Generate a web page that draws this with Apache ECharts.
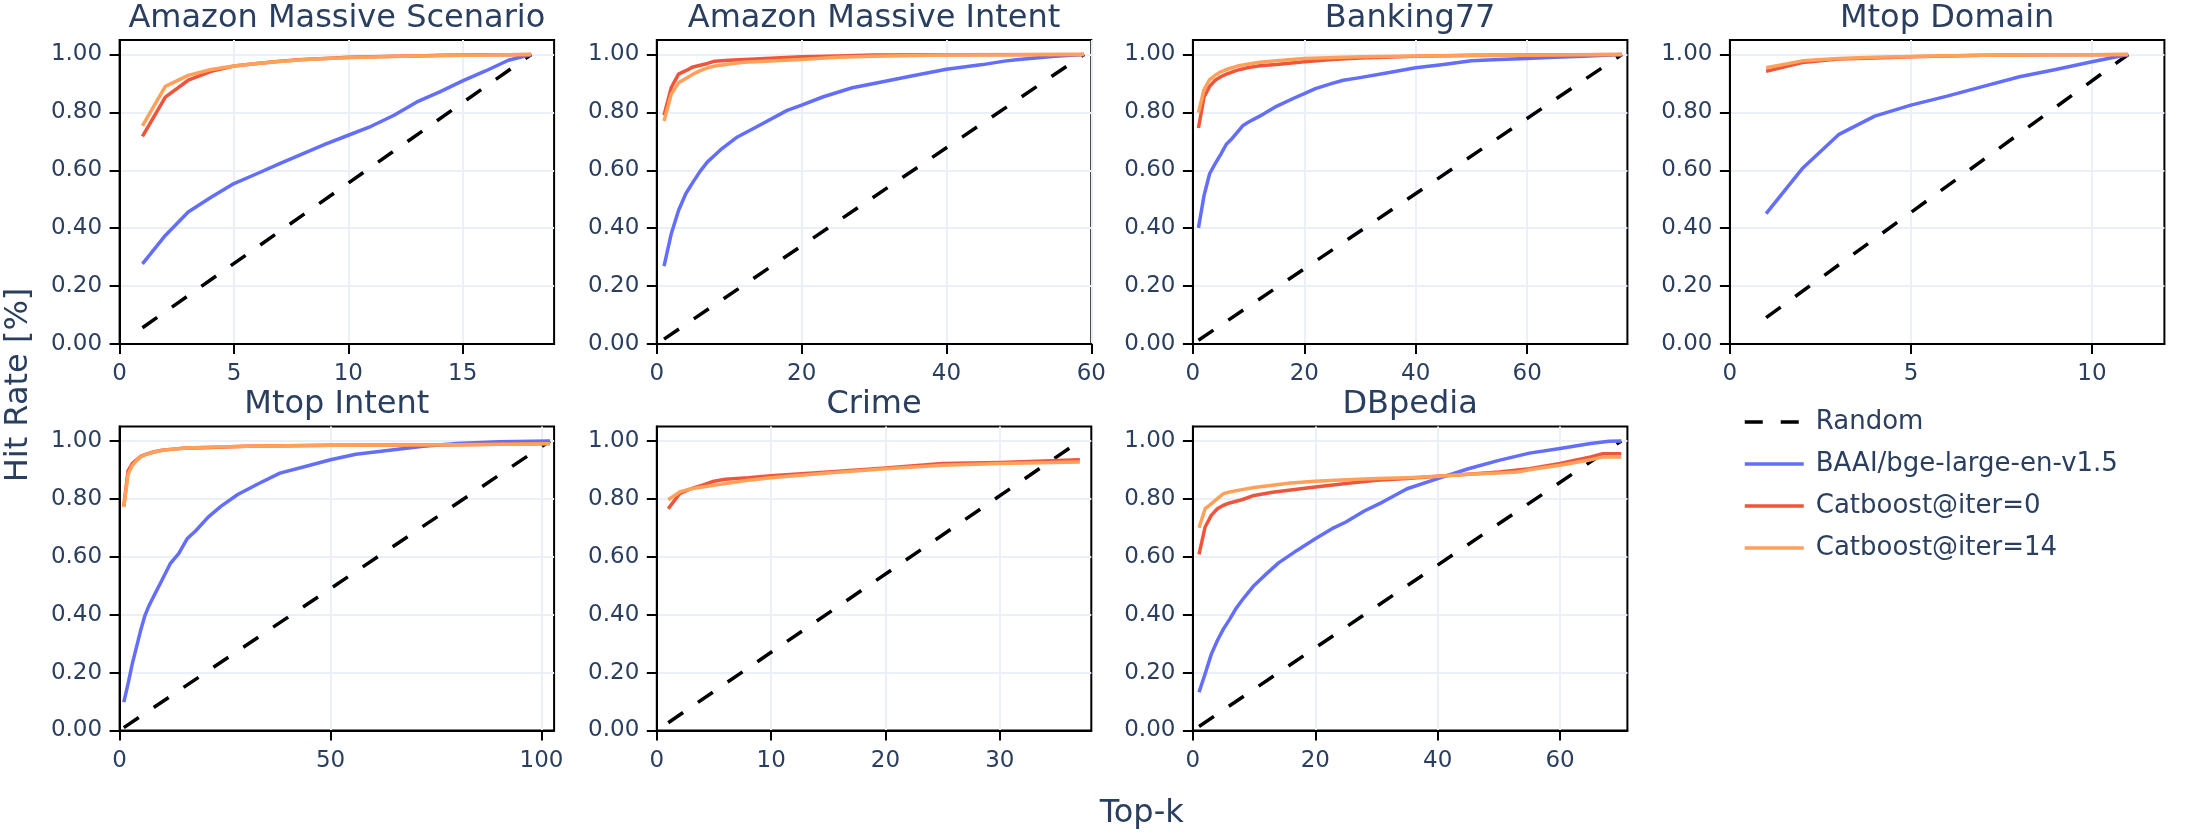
<!DOCTYPE html>
<html>
<head>
<meta charset="utf-8">
<script src="https://cdn.jsdelivr.net/npm/echarts@6/dist/echarts.min.js"></script>
<style>
html,body{margin:0;padding:0;background:#fff;}
#chart{width:2200px;height:840px;}
</style>
</head>
<body>
<div id="chart"></div>
<script>
// ---------------- DATA ----------------
const seriesNames = ['Random', 'BAAI/bge-large-en-v1.5', 'Catboost@iter=0', 'Catboost@iter=14'];
const panelTitles = ['Amazon Massive Scenario', 'Amazon Massive Intent', 'Banking77', 'Mtop Domain', 'Mtop Intent', 'Crime', 'DBpedia'];
const xMaxes = [19, 60, 78, 12, 103, 38, 71];
const xTickValues = [[0,5,10,15],[0,20,40,60],[0,20,40,60],[0,5,10],[0,50,100],[0,10,20,30],[0,20,40,60]];
const xIntervals = [5, 20, 20, 5, 50, 10, 20];
const yTickValues = [0, 0.2, 0.4, 0.6, 0.8, 1.0];

// Amazon Massive Scenario
const scenarioRandom = [[1,0.056],[18,1.0]];
const scenarioBge = [[1,0.277],[2,0.375],[3,0.456],[4,0.507],[5,0.554],[6,0.588],[7,0.623],[8,0.657],[9,0.690],[10,0.721],[11,0.752],[12,0.790],[13,0.836],[14,0.871],[15,0.909],[16,0.943],[17,0.980],[18,1.0]];
const scenarioCat0 = [[1,0.717],[2,0.853],[3,0.911],[4,0.942],[5,0.960],[6,0.969],[7,0.977],[8,0.983],[9,0.986],[10,0.990],[11,0.992],[12,0.994],[13,0.995],[14,0.997],[15,0.998],[16,0.999],[17,0.999],[18,1.0]];
const scenarioCat14 = [[1,0.753],[2,0.890],[3,0.928],[4,0.948],[5,0.960],[6,0.969],[7,0.976],[8,0.982],[9,0.986],[10,0.989],[11,0.991],[12,0.993],[13,0.995],[14,0.996],[15,0.997],[16,0.998],[17,0.999],[18,1.0]];

// Amazon Massive Intent
const intentRandom = [[1,0.017],[59,1.0]];
const intentBge = [[1,0.269],[2,0.381],[3,0.461],[4,0.519],[5,0.559],[6,0.597],[7,0.629],[8,0.652],[9,0.675],[10,0.694],[11,0.713],[14,0.753],[18,0.807],[20,0.825],[23,0.854],[27,0.885],[30,0.900],[35,0.925],[40,0.949],[45,0.965],[48,0.977],[50,0.983],[55,0.994],[59,1.0]];
const intentCat0 = [[1,0.790],[2,0.886],[3,0.932],[4,0.944],[5,0.957],[6,0.963],[7,0.969],[8,0.977],[10,0.980],[15,0.986],[20,0.992],[25,0.995],[30,0.998],[40,0.999],[59,1.0]];
const intentCat14 = [[1,0.770],[2,0.863],[3,0.902],[4,0.917],[5,0.932],[6,0.944],[7,0.954],[8,0.960],[10,0.967],[12,0.973],[15,0.977],[20,0.983],[25,0.990],[30,0.994],[40,0.998],[59,1.0]];

// Banking77
const bankingRandom = [[1,0.013],[77,1.0]];
const bankingBge = [[1,0.401],[2,0.513],[3,0.588],[4,0.623],[5,0.655],[6,0.690],[7,0.709],[8,0.732],[9,0.755],[10,0.767],[12,0.787],[15,0.821],[18,0.848],[20,0.865],[22,0.882],[25,0.900],[27,0.911],[30,0.920],[35,0.937],[40,0.954],[45,0.965],[50,0.978],[55,0.983],[60,0.986],[65,0.990],[70,0.994],[77,1.0]];
const bankingCat0 = [[1,0.746],[2,0.853],[3,0.890],[4,0.911],[5,0.923],[6,0.932],[8,0.946],[10,0.955],[12,0.961],[15,0.965],[20,0.975],[25,0.983],[30,0.988],[40,0.994],[50,0.997],[77,1.0]];
const bankingCat14 = [[1,0.799],[2,0.879],[3,0.913],[4,0.928],[5,0.940],[6,0.948],[8,0.960],[10,0.967],[12,0.973],[15,0.978],[20,0.986],[30,0.992],[40,0.995],[77,1.0]];

// Mtop Domain
const domainRandom = [[1,0.091],[11,1.0]];
const domainBge = [[1,0.450],[2,0.606],[3,0.723],[4,0.787],[5,0.825],[6,0.856],[7,0.890],[8,0.923],[9,0.948],[10,0.975],[11,1.0]];
const domainCat0 = [[1,0.942],[2,0.972],[3,0.984],[4,0.988],[5,0.992],[6,0.995],[7,0.997],[8,0.998],[9,0.999],[10,0.999],[11,1.0]];
const domainCat14 = [[1,0.954],[2,0.978],[3,0.986],[4,0.990],[5,0.993],[6,0.996],[7,0.997],[8,0.998],[9,0.999],[10,0.999],[11,1.0]];

// Mtop Intent
const mtopIntentRandom = [[1,0.010],[102,1.0]];
const mtopIntentBge = [[1,0.098],[2,0.161],[3,0.230],[4,0.288],[5,0.346],[6,0.397],[7,0.432],[8,0.461],[10,0.518],[12,0.576],[14,0.611],[16,0.662],[18,0.689],[21,0.737],[24,0.774],[28,0.815],[33,0.853],[38,0.889],[44,0.912],[50,0.935],[56,0.954],[64,0.968],[72,0.982],[80,0.991],[90,0.997],[102,1.0]];
const mtopIntentCat0 = [[1,0.775],[2,0.897],[3,0.922],[4,0.935],[5,0.947],[6,0.953],[8,0.962],[10,0.968],[12,0.971],[15,0.975],[20,0.977],[30,0.982],[50,0.985],[80,0.987],[102,0.991]];
const mtopIntentCat14 = [[1,0.772],[2,0.885],[3,0.915],[4,0.932],[5,0.945],[6,0.952],[8,0.961],[10,0.967],[12,0.971],[15,0.975],[20,0.978],[30,0.982],[50,0.985],[80,0.987],[102,0.990]];

// Crime (no embedding baseline curve)
const crimeRandom = [[1,0.027],[37,1.0]];
const crimeBge = [];
const crimeCat0 = [[1,0.766],[2,0.818],[3,0.835],[4,0.847],[5,0.861],[6,0.868],[8,0.873],[10,0.880],[15,0.893],[20,0.907],[25,0.922],[30,0.926],[37,0.935]];
const crimeCat14 = [[1,0.797],[2,0.824],[3,0.835],[4,0.841],[5,0.847],[6,0.853],[8,0.864],[10,0.873],[15,0.889],[20,0.904],[25,0.916],[30,0.922],[37,0.927]];

// DBpedia
const dbpediaRandom = [[1,0.014],[70,1.0]];
const dbpediaBge = [[1,0.132],[2,0.196],[3,0.263],[4,0.311],[5,0.351],[6,0.384],[7,0.420],[8,0.449],[9,0.475],[10,0.501],[12,0.541],[14,0.579],[17,0.622],[20,0.662],[23,0.700],[25,0.720],[28,0.758],[31,0.789],[35,0.835],[40,0.870],[45,0.904],[50,0.933],[55,0.958],[60,0.974],[65,0.991],[68,0.999],[70,1.0]];
const dbpediaCat0 = [[1,0.608],[2,0.703],[3,0.743],[4,0.766],[5,0.778],[6,0.786],[8,0.797],[10,0.812],[13,0.823],[16,0.831],[20,0.841],[25,0.853],[30,0.864],[35,0.870],[40,0.878],[45,0.885],[50,0.893],[55,0.904],[60,0.922],[65,0.945],[67,0.956],[70,0.956]];
const dbpediaCat14 = [[1,0.700],[2,0.766],[3,0.783],[4,0.801],[5,0.818],[6,0.824],[8,0.832],[10,0.839],[13,0.847],[16,0.855],[20,0.861],[25,0.866],[30,0.870],[35,0.873],[40,0.878],[45,0.885],[50,0.889],[53,0.893],[56,0.904],[60,0.916],[65,0.935],[67,0.945],[70,0.945]];

const panelData = [
  [scenarioRandom, scenarioBge, scenarioCat0, scenarioCat14],
  [intentRandom, intentBge, intentCat0, intentCat14],
  [bankingRandom, bankingBge, bankingCat0, bankingCat14],
  [domainRandom, domainBge, domainCat0, domainCat14],
  [mtopIntentRandom, mtopIntentBge, mtopIntentCat0, mtopIntentCat14],
  [crimeRandom, crimeBge, crimeCat0, crimeCat14],
  [dbpediaRandom, dbpediaBge, dbpediaCat0, dbpediaCat14]
];

// ---------------- LAYOUT / STYLE ----------------
const FONT = 'DejaVu Sans';
const TEXT = '#2a3f5f';
const colors = ['#000000', '#636EFA', '#EF553B', '#FFA15A'];
const colLefts = [119.6, 656.8, 1192.9, 1729.9];
const rowTops = [40, 426.5];
const gW = 434.5, gH = 304;
const LW = 3.5;

const grids = [], xAxes = [], yAxes = [], series = [], graphics = [];
panelTitles.forEach((t, i) => {
  const col = i % 4, row = Math.floor(i / 4);
  grids.push({left: colLefts[col], top: rowTops[row], width: gW, height: gH,
    show: true, borderColor: '#000', borderWidth: 2, backgroundColor: 'transparent', containLabel: false});
  xAxes.push({
    type: 'value', gridIndex: i, min: 0, max: xMaxes[i], interval: xIntervals[i],
    axisLine: {show: true, onZero: false, lineStyle: {color: '#000', width: 2}},
    axisTick: {show: true, inside: false, length: 10, lineStyle: {color: '#000', width: 2}, customValues: xTickValues[i]},
    axisLabel: {show: true, margin: 19, fontFamily: FONT, fontSize: 23, color: TEXT, customValues: xTickValues[i],
      formatter: v => String(v)},
    splitLine: {show: true, lineStyle: {color: '#EBF0F8', width: 2}}
  });
  yAxes.push({
    type: 'value', gridIndex: i, min: 0, max: 1.05, interval: 0.2,
    axisLine: {show: true, onZero: false, lineStyle: {color: '#000', width: 2}},
    axisTick: {show: true, inside: false, length: 10, lineStyle: {color: '#000', width: 2}, customValues: yTickValues},
    axisLabel: {show: true, margin: 17.5, fontFamily: FONT, fontSize: 23, color: TEXT, customValues: yTickValues,
      formatter: v => Number(v).toFixed(2)},
    splitLine: {show: true, lineStyle: {color: '#EBF0F8', width: 2}}
  });
  panelData[i].forEach((d, s) => {
    if (!d.length) return;
    series.push({
      name: seriesNames[s], type: 'line', xAxisIndex: i, yAxisIndex: i, data: d,
      symbol: 'none', showSymbol: false, smooth: false, animation: false,
      color: colors[s],
      itemStyle: {color: colors[s], opacity: 0},
      lineStyle: {color: colors[s], width: LW, type: s === 0 ? [18, 18] : 'solid', join: 'round'},
      emphasis: {disabled: true}, silent: true, z: 2 + s
    });
  });
  graphics.push({
    type: 'text', x: colLefts[col] + gW / 2, y: rowTops[row] - 21.5,
    style: {text: t, font: '32px "' + FONT + '"', fill: TEXT, textAlign: 'center', textVerticalAlign: 'middle'}
  });
});

graphics.push({type: 'text', x: 1141.7, y: 813.4,
  style: {text: 'Top-k', font: '32px "' + FONT + '"', fill: TEXT, textAlign: 'center', textVerticalAlign: 'middle'}});
graphics.push({type: 'text', x: 18.3, y: 385, rotation: Math.PI / 2,
  style: {text: 'Hit Rate [%]', font: '32px "' + FONT + '"', fill: TEXT, textAlign: 'center', textVerticalAlign: 'middle'}});

const chart = echarts.init(document.getElementById('chart'), null, {renderer: 'canvas'});
chart.setOption({
  animation: false,
  backgroundColor: '#fff',
  grid: grids, xAxis: xAxes, yAxis: yAxes, series: series,
  legend: {
    data: seriesNames, orient: 'vertical', left: 1738, top: 401,
    itemWidth: 59, itemHeight: 14, itemGap: 10, selectedMode: false,
    itemStyle: {opacity: 0, borderWidth: 0},
    lineStyle: {width: LW},
    textStyle: {fontFamily: FONT, fontSize: 26, color: TEXT, lineHeight: 32, padding: [0, 0, 0, 7]}
  },
  graphic: graphics
});
</script>
</body>
</html>
